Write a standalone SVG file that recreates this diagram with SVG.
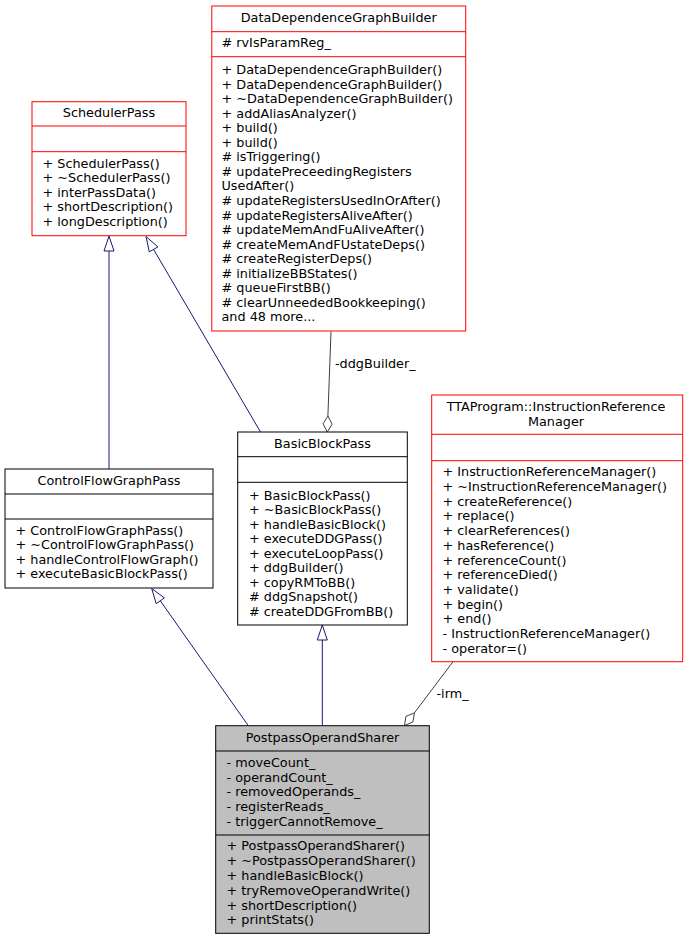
<svg xmlns="http://www.w3.org/2000/svg" width="688" height="940" viewBox="0 0 688 940">
<style>
text{font-family:"DejaVu Sans","Liberation Sans",sans-serif;font-size:12.8px;fill:#000}
.t{text-anchor:middle}
.red{fill:#fff;stroke:#ff0000;stroke-width:1}
.blk{fill:#fff;stroke:#000;stroke-width:1}
.cur{fill:#bfbfbf;stroke:#000;stroke-width:1}
.sr{stroke:#ff0000;stroke-width:1}
.sb{stroke:#000;stroke-width:1}
.inh{stroke:#191970;stroke-width:1;fill:none}
.agg{stroke:#404040;stroke-width:1;fill:none}
.dia{stroke:#404040;stroke-width:1;fill:#fff}
</style>
<rect x="0" y="0" width="688" height="940" fill="#fff"/>
<g id="connectors">
  <line class="inh" x1="109" y1="469" x2="109" y2="251"/>
  <polygon class="inh" points="109,236 104,251 114,251"/>
  <line class="inh" x1="260.5" y1="432" x2="153.6" y2="249.4"/>
  <polygon class="inh" points="146,236.5 157.9,246.9 149.3,251.9"/>
  <line class="inh" x1="248.3" y1="725.7" x2="160.3" y2="600.8"/>
  <polygon class="inh" points="151.7,588.5 164.4,597.9 156.2,603.7"/>
  <line class="inh" x1="322.3" y1="725.7" x2="322.3" y2="640"/>
  <polygon class="inh" points="322.3,625 317.3,640 327.3,640"/>
  <line class="agg" x1="331" y1="331.5" x2="327.9" y2="416"/>
  <polygon class="dia" points="327.9,416 332.1,424.2 327.3,432 323.1,423.8"/>
  <text x="335" y="367.5">-ddgBuilder_</text>
  <line class="agg" x1="453" y1="661.7" x2="414.4" y2="712.9"/>
  <polygon class="dia" points="414.4,712.9 412.9,722 404.5,725.5 405.9,716.4"/>
  <text x="436.5" y="697.5">-irm_</text>
</g>
<g id="DataDependenceGraphBuilder">
  <rect class="red" x="211.8" y="6" width="253.9" height="325"/>
  <line class="sr" x1="211.8" y1="31.7" x2="465.7" y2="31.7"/>
  <line class="sr" x1="211.8" y1="56.7" x2="465.7" y2="56.7"/>
  <text class="t" x="338.7" y="22">DataDependenceGraphBuilder</text>
  <text x="221.5" y="47.3"># rvIsParamReg_</text>
  <text x="221.5" y="74">+ DataDependenceGraphBuilder()</text>
  <text x="221.5" y="88.55">+ DataDependenceGraphBuilder()</text>
  <text x="221.5" y="103.1">+ ~DataDependenceGraphBuilder()</text>
  <text x="221.5" y="117.65">+ addAliasAnalyzer()</text>
  <text x="221.5" y="132.2">+ build()</text>
  <text x="221.5" y="146.75">+ build()</text>
  <text x="221.5" y="161.3"># isTriggering()</text>
  <text x="221.5" y="175.85"># updatePreceedingRegisters</text>
  <text x="221.5" y="190.4">UsedAfter()</text>
  <text x="221.5" y="204.95"># updateRegistersUsedInOrAfter()</text>
  <text x="221.5" y="219.5"># updateRegistersAliveAfter()</text>
  <text x="221.5" y="234.05"># updateMemAndFuAliveAfter()</text>
  <text x="221.5" y="248.6"># createMemAndFUstateDeps()</text>
  <text x="221.5" y="263.15"># createRegisterDeps()</text>
  <text x="221.5" y="277.7"># initializeBBStates()</text>
  <text x="221.5" y="292.25"># queueFirstBB()</text>
  <text x="221.5" y="306.8"># clearUnneededBookkeeping()</text>
  <text x="221.5" y="321.35">and 48 more...</text>
</g>
<g id="SchedulerPass">
  <rect class="red" x="32" y="101.7" width="154" height="134"/>
  <line class="sr" x1="32" y1="126" x2="186" y2="126"/>
  <line class="sr" x1="32" y1="151.7" x2="186" y2="151.7"/>
  <text class="t" x="109" y="117">SchedulerPass</text>
  <text x="42.5" y="167.7">+ SchedulerPass()</text>
  <text x="42.5" y="182.2">+ ~SchedulerPass()</text>
  <text x="42.5" y="196.7">+ interPassData()</text>
  <text x="42.5" y="211.2">+ shortDescription()</text>
  <text x="42.5" y="225.7">+ longDescription()</text>
</g>
<g id="ControlFlowGraphPass">
  <rect class="blk" x="5" y="469" width="208" height="119"/>
  <line class="sb" x1="5" y1="494" x2="213" y2="494"/>
  <line class="sb" x1="5" y1="519" x2="213" y2="519"/>
  <text class="t" x="109" y="485.3">ControlFlowGraphPass</text>
  <text x="15.5" y="534.5">+ ControlFlowGraphPass()</text>
  <text x="15.5" y="549">+ ~ControlFlowGraphPass()</text>
  <text x="15.5" y="563.5">+ handleControlFlowGraph()</text>
  <text x="15.5" y="578">+ executeBasicBlockPass()</text>
</g>
<g id="BasicBlockPass">
  <rect class="blk" x="237.7" y="432" width="169.6" height="193"/>
  <line class="sb" x1="237.7" y1="456.7" x2="407.3" y2="456.7"/>
  <line class="sb" x1="237.7" y1="482.3" x2="407.3" y2="482.3"/>
  <text class="t" x="322.5" y="448">BasicBlockPass</text>
  <text x="249" y="499.7">+ BasicBlockPass()</text>
  <text x="249" y="514.2">+ ~BasicBlockPass()</text>
  <text x="249" y="528.7">+ handleBasicBlock()</text>
  <text x="249" y="543.2">+ executeDDGPass()</text>
  <text x="249" y="557.7">+ executeLoopPass()</text>
  <text x="249" y="572.2">+ ddgBuilder()</text>
  <text x="249" y="586.7">+ copyRMToBB()</text>
  <text x="249" y="601.2"># ddgSnapshot()</text>
  <text x="249" y="615.7"># createDDGFromBB()</text>
</g>
<g id="InstructionReferenceManager">
  <rect class="red" x="431.7" y="395" width="251" height="266.7"/>
  <line class="sr" x1="431.7" y1="434.3" x2="682.7" y2="434.3"/>
  <line class="sr" x1="431.7" y1="460.7" x2="682.7" y2="460.7"/>
  <text class="t" x="556" y="411.3">TTAProgram::InstructionReference</text>
  <text class="t" x="556" y="426.3">Manager</text>
  <text x="442.5" y="476.3">+ InstructionReferenceManager()</text>
  <text x="442.5" y="491">+ ~InstructionReferenceManager()</text>
  <text x="442.5" y="505.7">+ createReference()</text>
  <text x="442.5" y="520.4">+ replace()</text>
  <text x="442.5" y="535.1">+ clearReferences()</text>
  <text x="442.5" y="549.8">+ hasReference()</text>
  <text x="442.5" y="564.5">+ referenceCount()</text>
  <text x="442.5" y="579.2">+ referenceDied()</text>
  <text x="442.5" y="593.9">+ validate()</text>
  <text x="442.5" y="608.6">+ begin()</text>
  <text x="442.5" y="623.3">+ end()</text>
  <text x="442.5" y="638">- InstructionReferenceManager()</text>
  <text x="442.5" y="652.7">- operator=()</text>
</g>
<g id="PostpassOperandSharer">
  <rect class="cur" x="215.7" y="725.7" width="213.6" height="207.6"/>
  <line class="sb" x1="215.7" y1="751" x2="429.3" y2="751"/>
  <line class="sb" x1="215.7" y1="835" x2="429.3" y2="835"/>
  <text class="t" x="322.5" y="742">PostpassOperandSharer</text>
  <text x="226.5" y="767">- moveCount_</text>
  <text x="226.5" y="781.7">- operandCount_</text>
  <text x="226.5" y="796.4">- removedOperands_</text>
  <text x="226.5" y="811.1">- registerReads_</text>
  <text x="226.5" y="825.8">- triggerCannotRemove_</text>
  <text x="226.5" y="850.3">+ PostpassOperandSharer()</text>
  <text x="226.5" y="865.1">+ ~PostpassOperandSharer()</text>
  <text x="226.5" y="879.9">+ handleBasicBlock()</text>
  <text x="226.5" y="894.7">+ tryRemoveOperandWrite()</text>
  <text x="226.5" y="909.5">+ shortDescription()</text>
  <text x="226.5" y="924.3">+ printStats()</text>
</g>
</svg>
